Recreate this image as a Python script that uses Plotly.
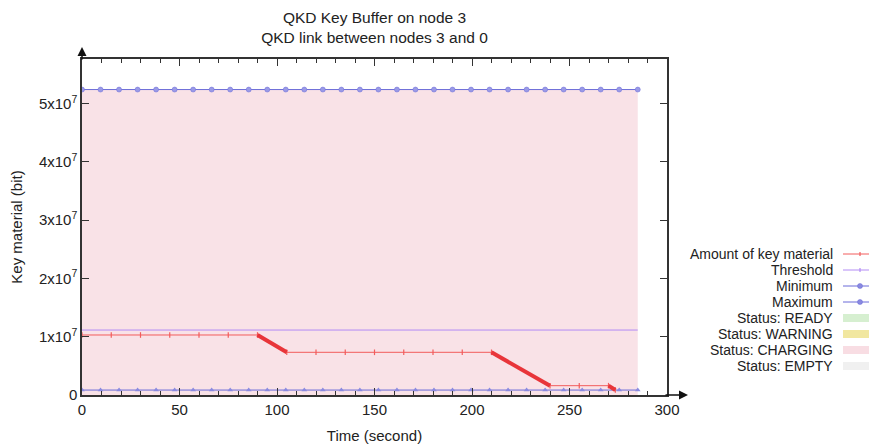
import plotly.graph_objects as go

# ---------------- data ----------------
key_time = [0, 15, 30, 45, 60, 75, 90, 105, 120, 135, 150, 165, 180, 195, 210, 240, 255, 270, 273.5]
key_bits = [1.03e7, 1.03e7, 1.03e7, 1.03e7, 1.03e7, 1.03e7, 1.03e7,
            0.733e7, 0.733e7, 0.733e7, 0.733e7, 0.733e7, 0.733e7, 0.733e7, 0.733e7,
            0.16e7, 0.16e7, 0.16e7, 0.085e7]

limit_time = [0, 9.5, 19, 28.5, 38, 47.5, 57, 66.5, 76, 85.5, 95, 104.5, 114, 123.5, 133,
              142.5, 152, 161.5, 171, 180.5, 190, 199.5, 209, 218.5, 228, 237.5, 247,
              256.5, 266, 275.5, 285]
threshold_bits = [1.115e7] * len(limit_time)
minimum_bits = [0.085e7] * len(limit_time)
maximum_bits = [5.243e7] * len(limit_time)

status_labels = ["Status: READY", "Status: WARNING", "Status: CHARGING", "Status: EMPTY"]
status_colors = ["#d6efd0", "#f1e7a0", "#f8dde3", "#f0f0f0"]

y_tick_vals = [0, 1e7, 2e7, 3e7, 4e7, 5e7]
y_tick_text = ["0", "1x10<sup>7</sup>", "2x10<sup>7</sup>", "3x10<sup>7</sup>",
               "4x10<sup>7</sup>", "5x10<sup>7</sup>"]
x_tick_vals = [0, 50, 100, 150, 200, 250, 300]

RED = "#f25c5c"
RED_THICK = "#e8353a"
PURPLE = "#b38cf5"
BLUE = "#6a6ad8"
FONT = "Liberation Sans, Arial, sans-serif"

# the page has an 8px body margin: the figure is sized to fill the rest of the window
FW, FH = 869, 436

fig = go.Figure()

# charging status area (whole recorded period)
fig.add_trace(go.Scatter(x=limit_time, y=maximum_bits, mode="lines",
                         line=dict(width=0, color="rgba(0,0,0,0)"),
                         fill="tozeroy", fillcolor="#f9e2e7",
                         hoverinfo="skip", showlegend=False))

# threshold
fig.add_trace(go.Scatter(x=limit_time, y=threshold_bits, mode="lines",
                         line=dict(color=PURPLE, width=1), showlegend=False))
# minimum
fig.add_trace(go.Scatter(x=limit_time, y=minimum_bits, mode="lines+markers",
                         line=dict(color=BLUE, width=1),
                         marker=dict(symbol="triangle-up", size=5, color="#8a8ae0"),
                         showlegend=False))
# maximum
fig.add_trace(go.Scatter(x=limit_time, y=maximum_bits, mode="lines+markers",
                         line=dict(color=BLUE, width=1),
                         marker=dict(symbol="circle", size=5, color="#9a9ae6",
                                     line=dict(color=BLUE, width=0.5)),
                         showlegend=False))

# key material
fig.add_trace(go.Scatter(x=key_time, y=key_bits, mode="lines+markers",
                         line=dict(color=RED, width=1),
                         marker=dict(symbol="line-ns", size=4, color=RED,
                                     line=dict(color=RED, width=1.2)),
                         showlegend=False))
# key consumption segments drawn thick
for i in range(len(key_time) - 1):
    if key_bits[i + 1] < key_bits[i]:
        fig.add_trace(go.Scatter(x=key_time[i:i + 2], y=key_bits[i:i + 2], mode="lines",
                                 line=dict(color=RED_THICK, width=4),
                                 showlegend=False))

y_top = max(maximum_bits) * 1.1

fig.update_layout(
    width=FW, height=FH,
    margin=dict(l=74, r=210, t=51, b=49, autoexpand=False),
    paper_bgcolor="white", plot_bgcolor="white",
    font=dict(family=FONT, size=15, color="#222"),
    title=dict(text="QKD Key Buffer on node 3<br>QKD link between nodes 3 and 0",
               x=366.5 / FW, xanchor="center", y=1 - 15 / FH, yanchor="top",
               font=dict(size=15.5, color="#222")),
    xaxis=dict(range=[0, 300], tickvals=x_tick_vals, showgrid=False, zeroline=False,
               automargin=False, tickfont=dict(size=15),
               showline=True, linecolor="#333", linewidth=1.5, mirror="allticks",
               ticks="inside", ticklen=7, tickcolor="#333",
               minor=dict(dtick=10, ticks="inside", ticklen=4, tickcolor="#333"),
               title=dict(text="Time (second)", standoff=14, font=dict(size=15))),
    yaxis=dict(range=[0, y_top], tickvals=y_tick_vals, ticktext=y_tick_text,
               showgrid=False, zeroline=False, automargin=False, tickfont=dict(size=15),
               showline=True, linecolor="#333", linewidth=1.5, mirror="allticks",
               ticks="inside", ticklen=7, tickcolor="#333",
               title=dict(text="Key material (bit)", standoff=24, font=dict(size=15))),
)

# axis arrow heads (gnuplot style)
fig.add_annotation(xref="paper", yref="paper", x=(688 - 82) / 585, y=0,
                   ax=-24, ay=0, showarrow=True, arrowhead=2, arrowsize=1.2,
                   arrowwidth=1.5, arrowcolor="#111", text="")
fig.add_annotation(xref="paper", yref="paper", x=0, y=1 + (59 - 47) / 336,
                   ax=0, ay=14, showarrow=True, arrowhead=2, arrowsize=1.2,
                   arrowwidth=1.5, arrowcolor="#111", text="")

# manual legend (text on the left, sample on the right); positions in window pixels
legend_top = 254
step = 16
text_right = 834
s0, s1 = 843, 877
line_items = [("Amount of key material", RED, "line-ns", RED),
              ("Threshold", PURPLE, "line-ns", PURPLE),
              ("Minimum", BLUE, "circle", BLUE),
              ("Maximum", BLUE, "circle", BLUE)]
def px(xp):
    return (xp - 82) / 585
def py(yp):
    return (395 - yp) / 336

labels = [it[0] for it in line_items] + status_labels
for k, lab in enumerate(labels):
    yy = legend_top + k * step
    fig.add_annotation(xref="paper", yref="paper", x=px(text_right), y=py(yy),
                       xanchor="right", yanchor="middle", text=lab, showarrow=False,
                       borderpad=0, font=dict(size=14, color="#222"))
for k, (lab, col, sym, mcol) in enumerate(line_items):
    yy = legend_top + k * step
    fig.add_shape(type="line", xref="paper", yref="paper", x0=px(s0), x1=px(s1),
                  y0=py(yy), y1=py(yy), line=dict(color=col, width=1))
    cx = (s0 + s1) / 2
    if sym == "circle":
        fig.add_shape(type="circle", xref="paper", yref="paper",
                      x0=px(cx - 2.5), x1=px(cx + 2.5), y0=py(yy + 2.5), y1=py(yy - 2.5),
                      fillcolor="#8a8ae0", line=dict(color=col, width=0.5))
    else:
        fig.add_shape(type="line", xref="paper", yref="paper", x0=px(cx), x1=px(cx),
                      y0=py(yy + 2), y1=py(yy - 2), line=dict(color=col, width=1.2))
for j, col in enumerate(status_colors):
    yy = legend_top + (len(line_items) + j) * step
    fig.add_shape(type="rect", xref="paper", yref="paper", x0=px(s0), x1=px(s1),
                  y0=py(yy + 4), y1=py(yy - 4), fillcolor=col, line=dict(width=0))

fig.write_html("out.html")
